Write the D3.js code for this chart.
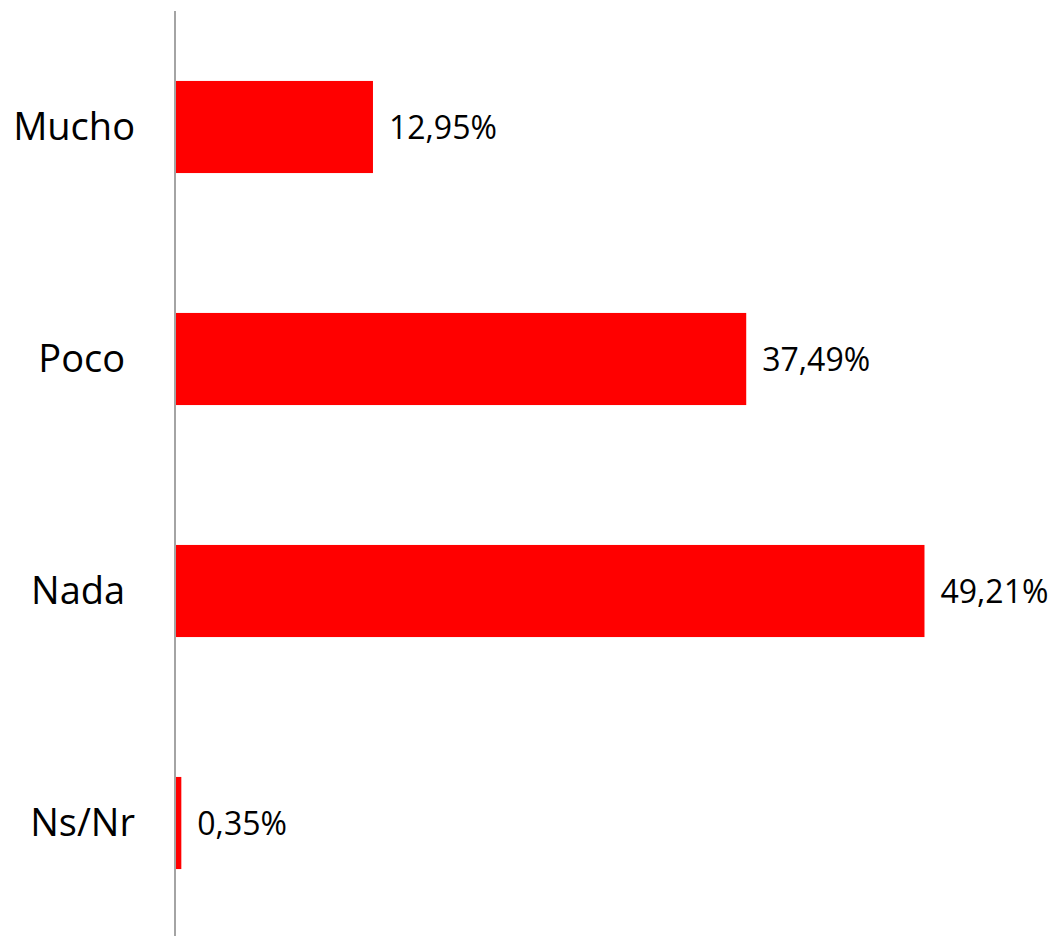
<!DOCTYPE html>
<html>
<head>
<meta charset="utf-8">
<script src="https://cdn.jsdelivr.net/npm/d3@7"></script>
<style>
  html, body { margin: 0; padding: 0; background: #fff; }
  svg { display: block; }
  text { font-family: "Open Sans", "Liberation Sans", sans-serif; fill: #000; white-space: pre; }
</style>
</head>
<body>
<svg id="chart" width="1057" height="936"></svg>
<script>
const categories = ["Mucho", "Poco ", "Nada ", "Ns/Nr"];
const values = [12.95, 37.49, 49.21, 0.35];
const valueLabels = ["12,95%", "37,49%", "49,21%", "0,35%"];

const svg = d3.select("#chart");
const x0 = 176;
const x = d3.scaleLinear().domain([0, 50]).range([x0, x0 + 760.5]);
const y = d3.scaleBand().domain(categories).range([11, 939]).paddingInner(0.603).paddingOuter(0.3015);

const data = categories.map((c, i) => ({ c, v: values[i], l: valueLabels[i] }));

svg.selectAll("rect.bar").data(data).enter().append("rect")
  .attr("class", "bar")
  .attr("x", x(0))
  .attr("y", d => y(d.c))
  .attr("width", d => x(d.v) - x(0))
  .attr("height", y.bandwidth())
  .attr("fill", "#ff0000");

svg.append("line")
  .attr("x1", x0 - 1).attr("x2", x0 - 1)
  .attr("y1", 11).attr("y2", 936)
  .attr("stroke", "#868686").attr("stroke-width", 1.5);

svg.selectAll("text.cat").data(data).enter().append("text")
  .attr("class", "cat")
  .attr("x", 135)
  .attr("y", d => y(d.c) + y.bandwidth() / 2 + 13)
  .attr("text-anchor", "end")
  .attr("font-size", 38)
  .text(d => d.c);

svg.selectAll("text.val").data(data).enter().append("text")
  .attr("class", "val")
  .attr("x", d => x(d.v) + 16)
  .attr("y", d => y(d.c) + y.bandwidth() / 2 + 12)
  .attr("font-size", 32)
  .text(d => d.l);
</script>
</body>
</html>
